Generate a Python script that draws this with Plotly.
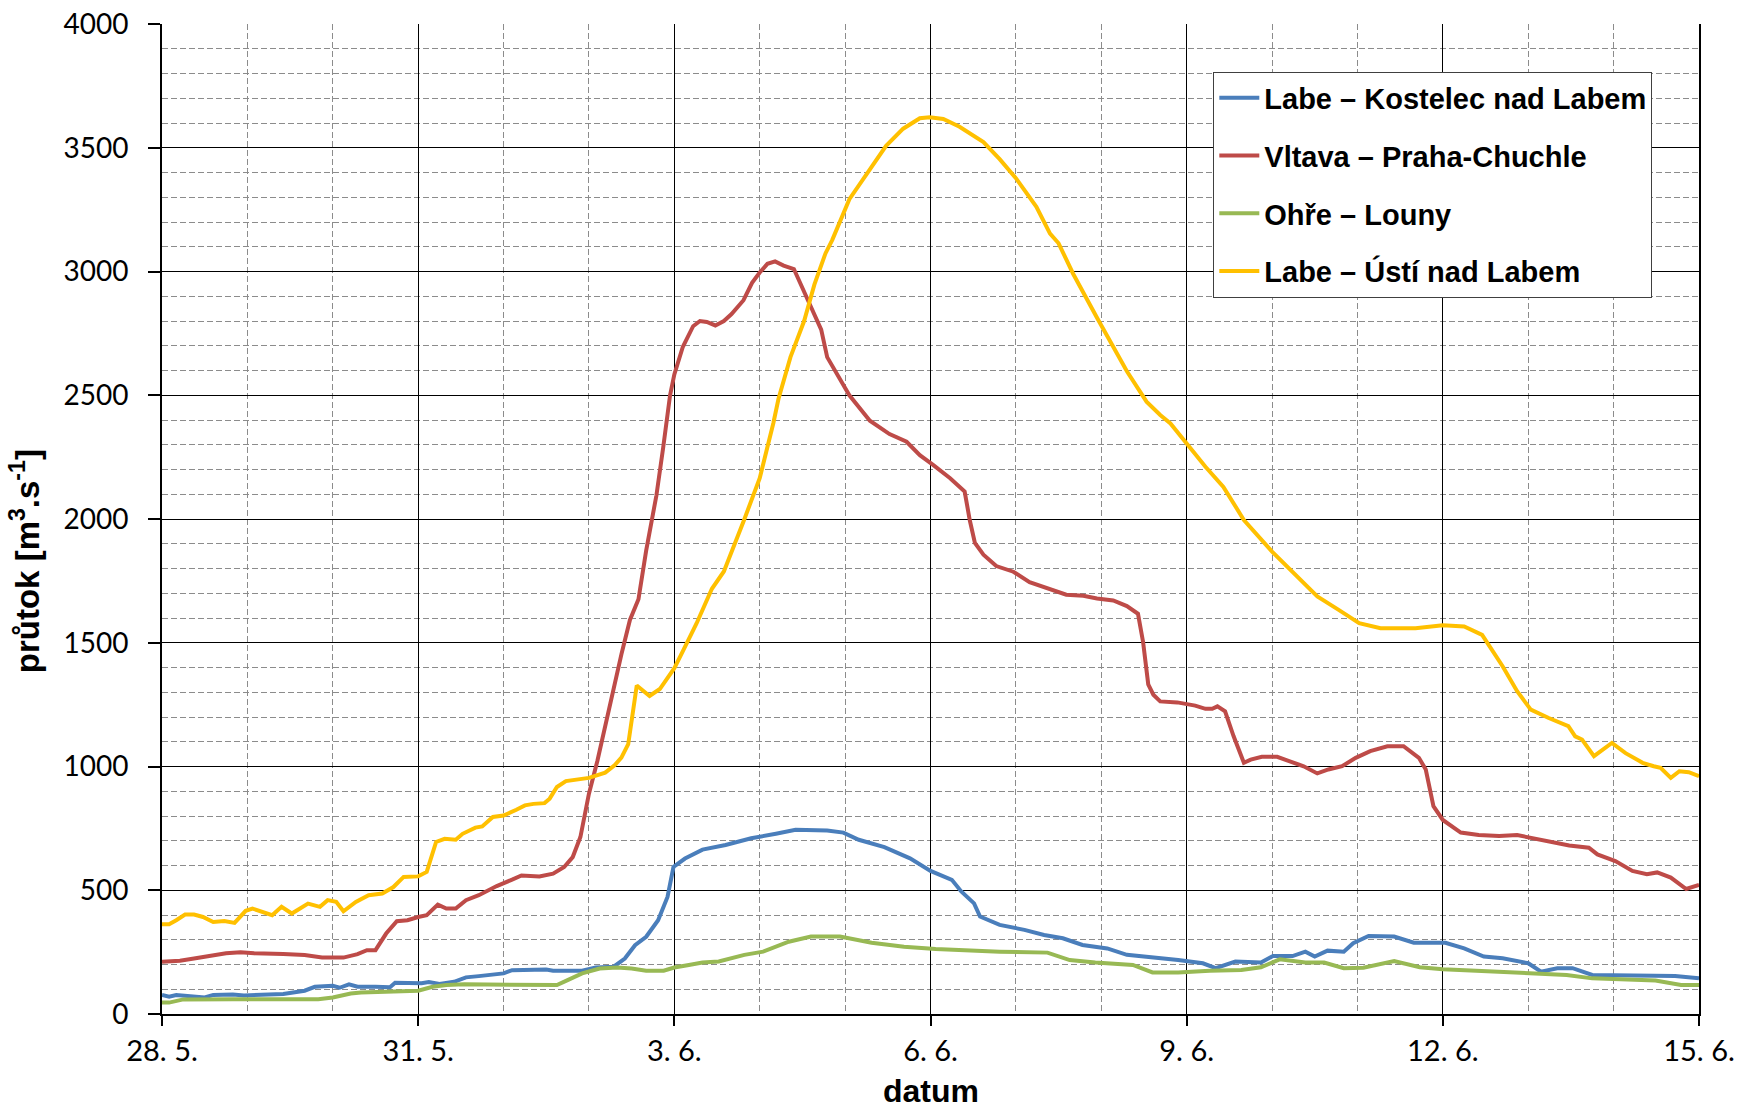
import plotly.graph_objects as go

# time axis: days since 28. 5.
tick_days = [0, 3, 6, 9, 12, 15, 18]
tick_labels = ["28. 5.", "31. 5.", "3. 6.", "6. 6.", "9. 6.", "12. 6.", "15. 6."]

# Labe – Kostelec nad Labem
kostelec_t = [0, 0.083, 0.167, 0.375, 0.5, 0.6, 0.83, 0.96, 1.25, 1.42, 1.67, 1.79, 2.0, 2.08, 2.19, 2.29,
              2.5, 2.67, 2.73, 2.92, 3.04, 3.125, 3.25, 3.42, 3.56, 3.71, 3.875, 4.0, 4.1, 4.33, 4.5, 4.58,
              4.92, 5.08, 5.29, 5.42, 5.54, 5.67, 5.81, 5.92, 5.99, 6.125, 6.33, 6.6, 6.9, 7.19, 7.42, 7.79,
              7.98, 8.16, 8.46, 8.76, 9.0, 9.25, 9.36, 9.51, 9.58, 9.81, 10.1, 10.33, 10.55, 10.78, 11.07,
              11.3, 11.67, 11.9, 12.19, 12.34, 12.57, 12.87, 13.01, 13.24, 13.39, 13.5, 13.65, 13.84, 13.95,
              14.13, 14.43, 14.66, 15.03, 15.25, 15.48, 15.7, 16.0, 16.15, 16.34, 16.52, 16.75, 17.05, 17.34,
              17.72, 18.0]
kostelec_q = [77, 70, 77, 73, 67, 77, 79, 75, 78, 81, 94, 110, 114, 106, 120, 110,
              110, 108, 126, 126, 124, 129, 121, 130, 148, 153, 159, 164, 177, 180, 180, 175,
              175, 188, 191, 224, 278, 312, 379, 473, 594, 628, 664, 683, 710, 728, 744, 741,
              733, 704, 674, 629, 578, 542, 495, 447, 394, 360, 340, 319, 306, 279, 265,
              239, 228, 218, 205, 185, 212, 208, 234, 234, 252, 232, 256, 252, 286,
              315, 313, 288, 288, 265, 232, 225, 205, 171, 185, 185, 158, 158, 154,
              154, 144]

# Vltava – Praha-Chuchle
chuchle_t = [0, 0.21, 0.375, 0.58, 0.75, 0.92, 1.08, 1.42, 1.67, 1.875, 2.125, 2.29, 2.4, 2.5, 2.625, 2.75,
             2.875, 3.0, 3.1, 3.23, 3.33, 3.44, 3.56, 3.71, 3.92, 4.1, 4.21, 4.42, 4.58, 4.71, 4.81, 4.9,
             5.0, 5.1, 5.18, 5.28, 5.38, 5.48, 5.58, 5.67, 5.79, 5.87, 5.95, 6.0, 6.1, 6.22, 6.3, 6.38,
             6.48, 6.58, 6.67, 6.81, 6.91, 7.0, 7.09, 7.18, 7.28, 7.4, 7.52, 7.64, 7.72, 7.79, 7.91, 8.05,
             8.29, 8.52, 8.72, 8.875, 9.03, 9.23, 9.4, 9.46, 9.52, 9.62, 9.77, 9.97, 10.16, 10.4, 10.59,
             10.79, 10.95, 11.14, 11.3, 11.43, 11.49, 11.55, 11.61, 11.69, 11.89, 12.1, 12.22, 12.3, 12.36,
             12.45, 12.55, 12.67, 12.75, 12.88, 13.06, 13.2, 13.37, 13.53, 13.66, 13.82, 13.98, 14.15, 14.35,
             14.54, 14.72, 14.8, 14.89, 15.0, 15.21, 15.42, 15.66, 15.87, 16.07, 16.28, 16.48, 16.71, 16.81,
             17.02, 17.22, 17.39, 17.51, 17.67, 17.85, 18.0]
chuchle_q = [211, 215, 224, 235, 245, 249, 245, 242, 238, 228, 228, 242, 258, 258, 325, 375,
             379, 392, 399, 442, 426, 426, 460, 480, 517, 543, 560, 556, 567, 594, 634, 715,
             890, 1024, 1145, 1313, 1453, 1592, 1676, 1872, 2095, 2290, 2500, 2584, 2696, 2779, 2800, 2796,
             2782, 2800, 2828, 2884, 2954, 2996, 3031, 3041, 3024, 3010, 2919, 2821, 2765, 2654, 2584, 2500,
             2397, 2343, 2312, 2258, 2219, 2165, 2111, 1995, 1903, 1856, 1810, 1787, 1745, 1718, 1694,
             1690, 1679, 1671, 1648, 1617, 1502, 1332, 1290, 1263, 1259, 1246, 1233, 1233, 1243,
             1223, 1122, 1015, 1028, 1039, 1039, 1022, 1001, 972, 988, 1001, 1035, 1062, 1082,
             1082, 1035, 988, 840, 784, 733, 723, 719, 723, 708, 692, 681, 672, 645,
             618, 578, 565, 572, 551, 505, 522]

# Ohře – Louny
louny_t = [0, 0.083, 0.25, 0.42, 0.83, 1.25, 1.83, 2.0, 2.21, 2.33, 2.67, 3.0, 3.17, 3.33, 3.54, 4.17,
           4.625, 4.75, 4.92, 5.125, 5.33, 5.5, 5.67, 5.875, 6.0, 6.17, 6.33, 6.52, 6.82, 7.04, 7.34, 7.6,
           7.94, 8.31, 8.69, 9.06, 9.43, 9.81, 10.37, 10.63, 10.93, 11.37, 11.6, 11.9, 12.27, 12.64, 12.87,
           13.09, 13.39, 13.61, 13.84, 14.07, 14.43, 14.73, 15.0, 15.4, 16.0, 16.45, 16.75, 17.05, 17.49,
           17.79, 18.0]
louny_q = [46, 46, 59, 60, 60, 60, 60, 67, 83, 87, 90, 94, 110, 117, 120, 117,
           117, 137, 164, 184, 188, 184, 175, 175, 188, 198, 208, 212, 239, 252, 292, 313,
           313, 288, 272, 263, 256, 252, 248, 218, 208, 198, 168, 168, 175, 178, 189,
           221, 208, 208, 185, 187, 214, 189, 181, 175, 168, 158, 144, 142, 135,
           117, 117]

# Labe – Ústí nad Labem
usti_t = [0, 0.083, 0.167, 0.27, 0.375, 0.48, 0.6, 0.73, 0.85, 0.98, 1.06, 1.19, 1.29, 1.4, 1.52, 1.71,
          1.85, 1.94, 2.04, 2.125, 2.27, 2.42, 2.58, 2.71, 2.83, 3.0, 3.1, 3.21, 3.31, 3.44, 3.52, 3.67,
          3.75, 3.875, 4.0, 4.15, 4.25, 4.35, 4.48, 4.54, 4.625, 4.73, 4.875, 5.0, 5.19, 5.3, 5.38, 5.46,
          5.56, 5.71, 5.83, 6.0, 6.1, 6.26, 6.44, 6.58, 6.81, 7.0, 7.16, 7.22, 7.36, 7.52, 7.64, 7.77,
          7.85, 8.05, 8.25, 8.48, 8.68, 8.875, 8.99, 9.15, 9.34, 9.62, 9.81, 10.0, 10.24, 10.4, 10.5,
          10.67, 10.95, 11.3, 11.53, 11.69, 11.81, 12.0, 12.22, 12.43, 12.67, 13.0, 13.29, 13.53, 13.78,
          14.02, 14.27, 14.68, 15.0, 15.25, 15.46, 15.7, 15.87, 16.03, 16.24, 16.47, 16.55, 16.63, 16.77,
          16.98, 17.14, 17.34, 17.47, 17.55, 17.67, 17.77, 17.88, 18.0]
usti_q = [363, 363, 379, 402, 402, 392, 372, 376, 368, 417, 426, 413, 399, 433, 406, 446,
          433, 460, 453, 415, 453, 480, 487, 513, 554, 556, 574, 695, 708, 704, 728, 753,
          758, 796, 802, 825, 843, 849, 852, 870, 917, 941, 946, 954, 975, 1005, 1036, 1090,
          1327, 1285, 1313, 1397, 1466, 1578, 1718, 1788, 1990, 2165, 2388, 2486, 2654, 2800, 2947, 3073,
          3128, 3292, 3392, 3508, 3577, 3619, 3623, 3616, 3585, 3523, 3454, 3377, 3261, 3153, 3114,
          2991, 2813, 2597, 2474, 2420, 2386, 2305, 2211, 2130, 1996, 1868, 1767, 1687, 1633,
          1579, 1559, 1559, 1571, 1566, 1532, 1405, 1304, 1230, 1196, 1163, 1122, 1109, 1042,
          1095, 1054, 1015, 1001, 995, 954, 981, 977, 961]

series = [
    ("Labe – Kostelec nad Labem", kostelec_t, kostelec_q, "#4A7EBB"),
    ("Vltava – Praha-Chuchle", chuchle_t, chuchle_q, "#BE4B48"),
    ("Ohře – Louny", louny_t, louny_q, "#98B954"),
    ("Labe – Ústí nad Labem", usti_t, usti_q, "#FFC000"),
]

fig = go.Figure()
for i, (name, t, q, col) in enumerate(series):
    fig.add_trace(go.Scatter(x=t, y=q, name=name, mode="lines", legendgroup=f"g{i}",
                             line=dict(color=col, width=4)))

tick_font = dict(family="Lato, Liberation Sans, sans-serif", size=28, color="black")
bold_font = "Liberation Sans Narrow, Liberation Sans, sans-serif"

fig.update_layout(
    width=1738, height=1114,
    margin=dict(l=162, r=39, t=24, b=100, autoexpand=False),
    paper_bgcolor="white", plot_bgcolor="white",
    showlegend=True,
    legend=dict(x=0.684, y=0.952, xanchor="left", yanchor="top",
                bgcolor="white", bordercolor="#404040", borderwidth=1,
                font=dict(family=bold_font, size=29, color="black", weight="bold"),
                tracegroupgap=17, itemwidth=40),
)

fig.update_xaxes(
    range=[0, 18], tickvals=tick_days, ticktext=tick_labels, automargin=False,
    tickfont=dict(family="Lato, Liberation Sans, sans-serif", size=29, color="black"),
    ticks="outside", ticklen=10, tickwidth=2, tickcolor="black",
    showline=True, linecolor="black", linewidth=2,
    showgrid=True, gridcolor="black", gridwidth=1, zeroline=False,
    minor=dict(dtick=1, showgrid=True, gridcolor="#8c8c8c", gridwidth=1, griddash="6px,3px"),
    ticklabelstandoff=0,
)
fig.update_yaxes(
    range=[0, 4000], dtick=500, tickfont=tick_font, automargin=False,
    ticks="outside", ticklen=12, tickwidth=2, tickcolor="black",
    showline=True, linecolor="black", linewidth=2, mirror=True,
    showgrid=True, gridcolor="black", gridwidth=1, zeroline=False,
    minor=dict(dtick=100, showgrid=True, gridcolor="#8c8c8c", gridwidth=1, griddash="6px,3px"),
    ticklabelstandoff=14,
)

fig.add_annotation(text="<b>průtok [m<sup>3</sup>.s<sup>-1</sup>]</b>", xref="paper", yref="paper",
                   x=-0.089, y=0.4576, xanchor="center", yanchor="middle", textangle=-90,
                   showarrow=False, font=dict(family=bold_font, size=33, color="black"))
fig.add_annotation(text="<b>datum</b>", xref="paper", yref="paper",
                   x=0.5, y=-0.078, xanchor="center", yanchor="middle",
                   showarrow=False, font=dict(family=bold_font, size=32, color="black"))

fig.write_html("out.html")
